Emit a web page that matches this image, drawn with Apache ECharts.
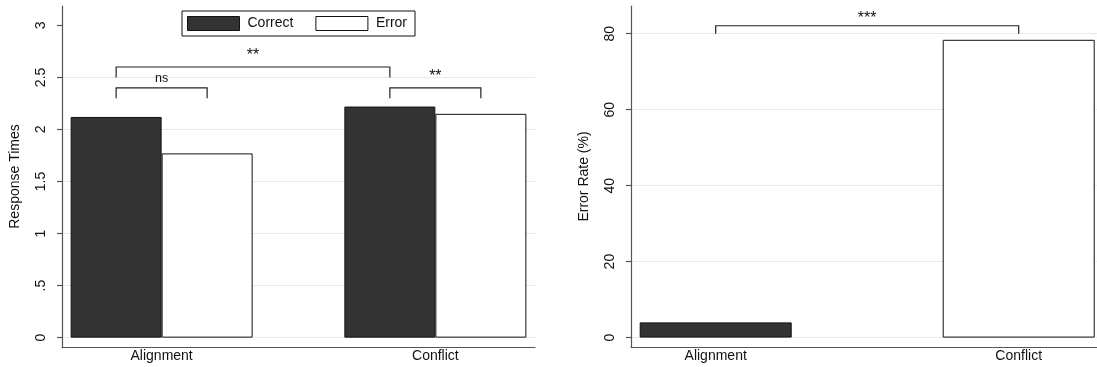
<!DOCTYPE html>
<html>
<head>
<meta charset="utf-8">
<script src="https://cdn.jsdelivr.net/npm/echarts@6/dist/echarts.min.js"></script>
<style>
html, body { margin: 0; padding: 0; background: #fff; }
#chart { width: 1097px; height: 367px; }
</style>
</head>
<body>
<div id="chart"></div>
<script>
const conditions = ['Alignment', 'Conflict'];
const rtCorrect = [2.12, 2.22];
const rtError = [1.77, 2.15];
const rtTicks = [0, 0.5, 1, 1.5, 2, 2.5, 3];
const errorRate = [4.0, 78.4];
const erTicks = [0, 20, 40, 60, 80];

// significance brackets: [condition, bar, condition, bar]
const rtBracketEnds = [[0, 0, 0, 1], [0, 0, 1, 0], [1, 0, 1, 1]];
const rtBracketTop = [2.4, 2.6, 2.4];
const rtBracketLeg = [2.3, 2.5, 2.3];
const rtBracketText = ['ns', '**', '**'];
const erBracketEnds = [[0, 0, 1, 0]];
const erBracketTop = [82.1];
const erBracketLeg = [80];
const erBracketText = ['***'];

const font = '"Liberation Sans", Arial, Helvetica, sans-serif';
const ink = '#111';
const axisGray = '#555';
const dark = '#333333';
const rtBarWidth = 91;
const erBarWidth = 152;

function stataLabel(v) {
  return String(v).replace(/^0\./, '.');
}

function bracketSeries(gridIndex, ends, tops, legs, texts, shift, gap) {
  return {
    type: 'custom',
    xAxisIndex: gridIndex,
    yAxisIndex: gridIndex,
    silent: true,
    z: 5,
    data: ends.map((e, i) => [e[0], e[1], e[2], e[3], tops[i], legs[i]]),
    encode: { x: [0, 2], y: [4, 5] },
    renderItem: function (params, api) {
      const x1 = api.coord([api.value(0), 0])[0] + shift(api.value(1));
      const x2 = api.coord([api.value(2), 0])[0] + shift(api.value(3));
      const yTop = api.coord([0, api.value(4)])[1];
      const yLeg = api.coord([0, api.value(5)])[1];
      const text = texts[params.dataIndex];
      // asterisks look tiny in Liberation, bump them up a bit
      const isStars = text.charAt(0) === '*';
      return {
        type: 'group',
        children: [
          {
            type: 'polyline',
            shape: { points: [[x1, yLeg], [x1, yTop], [x2, yTop], [x2, yLeg]] },
            style: { fill: null, stroke: '#222', lineWidth: 1.2 }
          },
          {
            type: 'text',
            style: {
              text: text,
              x: (x1 + x2) / 2,
              y: yTop - gap,
              align: 'center',
              verticalAlign: 'bottom',
              fontSize: isStars ? 16 : 12.5,
              fontFamily: font,
              fill: ink
            }
          }
        ]
      };
    }
  };
}

function valueXAxis(gridIndex, pad) {
  return {
    gridIndex: gridIndex,
    type: 'value',
    min: -pad,
    max: 1 + pad,
    axisLine: { show: true, onZero: false, lineStyle: { color: axisGray, width: 1.2 } },
    axisTick: { show: false },
    splitLine: { show: false },
    axisLabel: {
      customValues: [0, 1],
      formatter: (v) => conditions[v],
      fontSize: 14,
      fontFamily: font,
      color: ink,
      margin: 2
    }
  };
}

function valueYAxis(gridIndex, min, max, ticks, name, gridColors) {
  return {
    gridIndex: gridIndex,
    type: 'value',
    min: min,
    max: max,
    name: name,
    nameLocation: 'middle',
    nameGap: 40,
    nameTextStyle: { fontSize: 14, fontFamily: font, color: ink },
    axisLine: { show: true, onZero: false, lineStyle: { color: axisGray, width: 1.2 } },
    axisTick: { show: true, length: 5, customValues: ticks, lineStyle: { color: axisGray, width: 1.2 } },
    axisLabel: {
      customValues: ticks,
      rotate: 90,
      margin: 14,
      formatter: stataLabel,
      fontSize: 14,
      fontFamily: font,
      color: ink
    },
    splitLine: { show: true, lineStyle: { color: gridColors, width: 1.2 } }
  };
}

const chart = echarts.init(document.getElementById('chart'), null, { renderer: 'canvas' });

chart.setOption({
  backgroundColor: '#fff',
  animation: false,
  textStyle: { fontFamily: font },
  legend: {
    data: ['Correct', 'Error'],
    left: 182,
    top: 11,
    orient: 'horizontal',
    padding: [5, 8, 5, 5],
    itemWidth: 52,
    itemHeight: 14,
    itemGap: 22,
    icon: 'rect',
    borderColor: '#111',
    borderWidth: 1,
    backgroundColor: '#fff',
    itemStyle: { borderColor: '#111', borderWidth: 1 },
    textStyle: { fontSize: 14, color: ink, lineHeight: 15, padding: [0, 0, 0, 3] }
  },
  grid: [
    { left: 62, top: 6, width: 473, height: 341, outerBoundsMode: 'none', containLabel: false },
    { left: 631, top: 6, width: 472.4, height: 341, outerBoundsMode: 'none', containLabel: false }
  ],
  xAxis: [valueXAxis(0, 0.364), valueXAxis(1, 0.2795)],
  yAxis: [
    valueYAxis(0, -0.09, 3.186, rtTicks, 'Response Times',
      ['#e8e8e8', '#e8e8e8', '#e8e8e8', '#e8e8e8', '#e8e8e8', '#e8e8e8', 'rgba(0,0,0,0)']),
    valueYAxis(1, -2.48, 87.3, erTicks, 'Error Rate (%)', ['#e8e8e8'])
  ],
  series: [
    {
      type: 'bar',
      name: 'Correct',
      xAxisIndex: 0,
      yAxisIndex: 0,
      barWidth: rtBarWidth,
      barGap: '0%',
      data: rtCorrect.map((v, i) => [i, v]),
      itemStyle: { color: dark, borderColor: '#111', borderWidth: 1 }
    },
    {
      type: 'bar',
      name: 'Error',
      xAxisIndex: 0,
      yAxisIndex: 0,
      barWidth: rtBarWidth,
      barGap: '0%',
      data: rtError.map((v, i) => [i, v]),
      itemStyle: { color: '#fff', borderColor: '#111', borderWidth: 1 }
    },
    {
      type: 'bar',
      name: 'Error Rate',
      xAxisIndex: 1,
      yAxisIndex: 1,
      barWidth: erBarWidth,
      data: errorRate.map((v, i) => ({
        value: [i, v],
        itemStyle: { color: i === 0 ? dark : '#fff' }
      })),
      itemStyle: { borderColor: '#111', borderWidth: 1 }
    },
    bracketSeries(0, rtBracketEnds, rtBracketTop, rtBracketLeg, rtBracketText,
      (bar) => (bar - 0.5) * rtBarWidth, 3),
    bracketSeries(1, erBracketEnds, erBracketTop, erBracketLeg, erBracketText,
      () => 0, -1)
  ]
});
</script>
</body>
</html>
